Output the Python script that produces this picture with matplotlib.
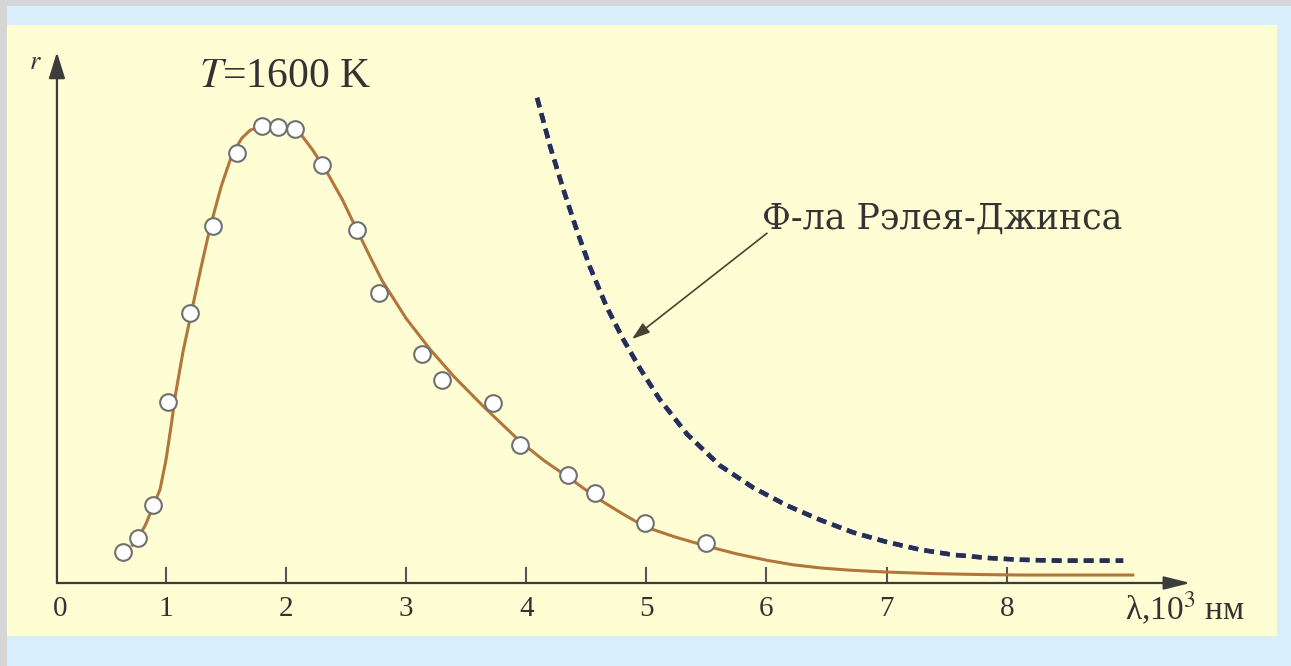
import numpy as np
import matplotlib as mpl
mpl.rcParams.update({'font.family': 'serif',
                     'font.serif': ['Liberation Serif', 'DejaVu Serif'],
                     'mathtext.fontset': 'stix'})
from matplotlib import pyplot as plt
from matplotlib.patches import Rectangle
import matplotlib.patheffects as pe

# measured spectral radiance at T = 1600 K (arbitrary units)
lam_meas = [0.64, 0.77, 0.89, 1.02, 1.20, 1.39, 1.59, 1.80, 1.93, 2.07, 2.30,
            2.59, 2.77, 3.13, 3.30, 3.72, 3.95, 4.35, 4.57, 4.99, 5.50]
r_meas = [6.8, 9.9, 17.1, 39.7, 59.2, 78.3, 94.3, 100.2, 100.0, 99.6, 91.7,
          77.4, 63.6, 50.2, 44.5, 39.5, 30.3, 23.7, 19.7, 13.2, 8.8]

# theoretical (Planck) curve
lam_fit = [0.72, 0.77, 0.83, 0.89, 0.95, 1.00, 1.04, 1.08, 1.14, 1.21, 1.29,
           1.37, 1.46, 1.55, 1.63, 1.70, 1.78, 1.87, 1.95, 2.03, 2.12, 2.22,
           2.34, 2.47, 2.59, 2.70, 2.80, 3.00, 3.20, 3.40, 3.64, 3.95, 4.15,
           4.36, 4.59, 4.80, 4.99, 5.25, 5.50, 5.75, 6.00, 6.22, 6.45, 6.70,
           7.00, 7.40, 7.80, 8.11, 8.50, 9.05]
r_fit = [8.3, 9.9, 12.8, 16.6, 20.5, 27.0, 34.0, 41.5, 50.5, 59.2, 69.0,
         78.3, 87.0, 94.0, 97.5, 99.3, 100.0, 100.2, 100.2, 99.8, 98.5, 95.0,
         90.1, 84.0, 77.4, 71.5, 66.3, 58.0, 51.2, 45.2, 38.8, 31.0, 26.8,
         23.0, 18.6, 15.2, 12.3, 10.0, 8.1, 6.4, 5.0, 4.0, 3.3, 2.8,
         2.4, 2.05, 1.85, 1.75, 1.75, 1.75]

# Rayleigh-Jeans formula
lam_rj = [4.09, 4.20, 4.31, 4.42, 4.53, 4.67, 4.81, 4.95, 5.11, 5.34, 5.61,
          5.89, 6.17, 6.45, 6.72, 7.00, 7.28, 7.55, 7.84, 8.11, 8.44, 8.97]
r_rj = [106.4, 95.6, 86.2, 77.4, 69.3, 60.5, 53.3, 46.9, 40.3, 32.6, 25.8,
        20.9, 17.0, 13.8, 11.1, 9.0, 7.3, 6.2, 5.5, 5.1, 4.9, 4.9]

xticks = [0.117, 1, 2, 3, 4, 5, 6, 7, 8]
xticklabels = ['0', '1', '2', '3', '4', '5', '6', '7', '8']

W, H = 1291, 666
fig = plt.figure(figsize=(W / 100, H / 100), dpi=100)
fig.patch.set_facecolor('#d8eefa')

# frame: grey edges and the yellow panel (kept under the axes)
fig.add_artist(Rectangle((0, 1 - 6 / H), 1, 6 / H, transform=fig.transFigure,
                         color='#d6d6d6', lw=0, zorder=-2))
fig.add_artist(Rectangle((0, 0), 7 / W, 1, transform=fig.transFigure,
                         color='#d6d6d6', lw=0, zorder=-2))
fig.add_artist(Rectangle((7 / W, 1 - 636 / H), 1270 / W, 611 / H,
                         transform=fig.transFigure, color='#fffdd4', lw=0,
                         zorder=-1))

x0px, x1px, y0px, y1px = 45.9, 1196, 583, 40
ax = fig.add_axes([x0px / W, 1 - y0px / H, (x1px - x0px) / W, (y0px - y1px) / H])
ax.set_facecolor('none')
sx = 120.1
sy = 4.56
ax.set_xlim(0, (x1px - x0px) / sx)
ax.set_ylim(0, (y0px - y1px) / sy)
for s in ax.spines.values():
    s.set_visible(False)

axcol = '#3c3c3c'
ax.annotate('', xy=(9.53, 0), xytext=(0.092, 0),
            arrowprops=dict(arrowstyle='-|>,head_length=0.8,head_width=0.2',
                            mutation_scale=20, lw=1.6, color=axcol,
                            shrinkA=0, shrinkB=0))
ax.annotate('', xy=(0.092, 116.4), xytext=(0.092, 0),
            arrowprops=dict(arrowstyle='-|>,head_length=0.8,head_width=0.25',
                            mutation_scale=20, lw=1.6, color=axcol,
                            shrinkA=0, shrinkB=0))

ax.set_xticks(xticks, labels=xticklabels)
ax.tick_params(axis='x', direction='in', length=11.5, width=1.5, color='#555555',
               labelsize=21, pad=9, labelcolor='#333333')
ax.xaxis.get_major_ticks()[0].tick1line.set_visible(False)
ax.set_yticks([])

ax.plot(lam_fit, r_fit, color='#b3763a', lw=2.2, zorder=3)
ax.plot(lam_meas, r_meas, 'o', ms=12, mfc='white', mec='#707070', mew=1.5, zorder=4)
ax.plot(lam_rj, r_rj, color='#27304f', lw=3.2, linestyle=(0, (2.2, 1.4)),
        zorder=3, path_effects=[pe.withStroke(linewidth=5.5, foreground='#f6f8f4'),
                                pe.Normal()])

ax.text(1.99, 111.0, r'$T$=1600 K', ha='center', va='center', fontsize=30,
        color='#333333')
ax.text(-0.09, 114.0, r'$r$', ha='center', va='center', fontsize=19, color='#333333')
ax.text(8.985, -5.5, r'λ,10$^3$ нм', ha='left', va='center', fontsize=24,
        color='#333333')

# label for the Rayleigh-Jeans curve with its pointer
ax.text(5.963, 79.8, 'Ф-ла Рэлея-Джинса', fontsize=25, family='DejaVu Serif',
        color='#333333', ha='left', va='center')
ax.annotate('', xy=(4.88, 53.5), xytext=(6.004, 76.7),
            arrowprops=dict(arrowstyle='-|>,head_length=0.6,head_width=0.2',
                            mutation_scale=18, lw=1.2, color='#444433',
                            shrinkA=0, shrinkB=0))

fig.savefig('out.png', dpi=100, facecolor=fig.get_facecolor())
